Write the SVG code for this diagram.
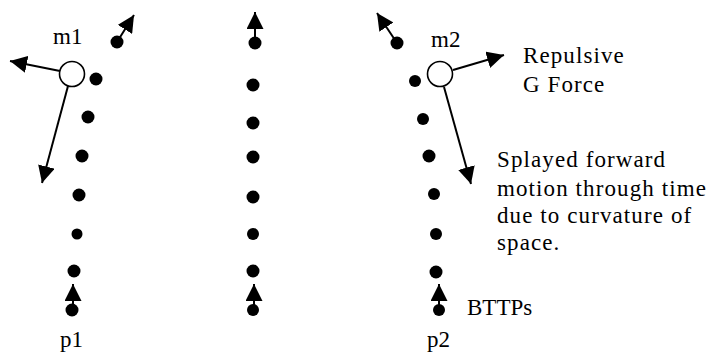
<svg xmlns="http://www.w3.org/2000/svg" width="708" height="352" viewBox="0 0 708 352">
  <style>
    .lbl { font-family: "Liberation Serif", "Times New Roman", serif; font-size: 23px; fill: #000; }
    .para { letter-spacing: 1.1px; }
    .dot { fill: #000; }
    .mass { fill: #fff; stroke: #000; stroke-width: 1.6; }
    .arr { stroke: #000; stroke-width: 2; fill: none; marker-end: url(#head); }
  </style>
  <defs>
    <marker id="head" viewBox="0 0 16 16" refX="16" refY="8" markerWidth="17" markerHeight="17" markerUnits="userSpaceOnUse" orient="auto">
      <path d="M0,0 L16,8 L0,16 z" fill="#000"/>
    </marker>
  </defs>
  <rect width="708" height="352" fill="#fff"/>

  <!-- force and motion arrows -->
  <g id="connectors">
    <line class="arr" x1="60" y1="71" x2="10" y2="61"/>
    <line class="arr" x1="68" y1="86" x2="42" y2="183"/>
    <line class="arr" x1="117" y1="42" x2="134" y2="15"/>
    <line class="arr" x1="255" y1="43" x2="255" y2="12"/>
    <line class="arr" x1="73" y1="310" x2="73" y2="284"/>
    <line class="arr" x1="254" y1="310" x2="254" y2="284"/>
    <line class="arr" x1="439" y1="310" x2="439" y2="284"/>
    <line class="arr" x1="397" y1="43" x2="377" y2="13"/>
    <line class="arr" x1="453" y1="70" x2="504" y2="55"/>
    <line class="arr" x1="444" y1="87" x2="471" y2="184"/>
  </g>

  <!-- left path of BTTPs -->
  <g id="path-p1">
    <circle class="dot" cx="117" cy="42" r="6.5"/>
    <circle class="dot" cx="96" cy="79" r="6.5"/>
    <circle class="dot" cx="88" cy="117" r="6.5"/>
    <circle class="dot" cx="82" cy="156" r="6.5"/>
    <circle class="dot" cx="79" cy="195" r="6.5"/>
    <circle class="dot" cx="77" cy="234" r="5.5"/>
    <circle class="dot" cx="74" cy="271" r="6.5"/>
    <circle class="dot" cx="72" cy="310" r="6.5"/>
  </g>

  <!-- centre path of BTTPs -->
  <g id="path-centre">
    <circle class="dot" cx="255" cy="43" r="6.5"/>
    <circle class="dot" cx="253" cy="85" r="6.5"/>
    <circle class="dot" cx="253" cy="123" r="6.5"/>
    <circle class="dot" cx="253" cy="157" r="6.5"/>
    <circle class="dot" cx="253" cy="197" r="6.5"/>
    <circle class="dot" cx="253" cy="234" r="6"/>
    <circle class="dot" cx="253" cy="271" r="6.5"/>
    <circle class="dot" cx="253" cy="310" r="6"/>
  </g>

  <!-- right path of BTTPs -->
  <g id="path-p2">
    <circle class="dot" cx="397" cy="43" r="6.5"/>
    <circle class="dot" cx="415" cy="81" r="6"/>
    <circle class="dot" cx="423" cy="119" r="6"/>
    <circle class="dot" cx="429" cy="156" r="6.5"/>
    <circle class="dot" cx="434" cy="194" r="6"/>
    <circle class="dot" cx="436" cy="234" r="6"/>
    <circle class="dot" cx="436" cy="272" r="6.5"/>
    <circle class="dot" cx="439" cy="310" r="6"/>
  </g>

  <g id="m1">
    <circle class="mass" cx="72" cy="74" r="12.5"/>
    <text class="lbl" x="53" y="44">m1</text>
  </g>
  <g id="m2">
    <circle class="mass" cx="440" cy="74" r="12.5"/>
    <text class="lbl" x="431" y="47">m2</text>
  </g>

  <g id="p1"><text class="lbl" x="60" y="347">p1</text></g>
  <g id="p2"><text class="lbl" x="427" y="347">p2</text></g>

  <g id="repulsive-label">
    <text class="lbl para" x="523" y="63">Repulsive</text>
    <text class="lbl para" x="523" y="92">G Force</text>
  </g>

  <g id="splayed-label">
    <text class="lbl para" x="497" y="167">Splayed forward</text>
    <text class="lbl para" x="497" y="196">motion through time</text>
    <text class="lbl para" x="497" y="223">due to curvature of</text>
    <text class="lbl para" x="497" y="250">space.</text>
  </g>

  <g id="bttps-label"><text class="lbl" x="467" y="315">BTTPs</text></g>
</svg>
